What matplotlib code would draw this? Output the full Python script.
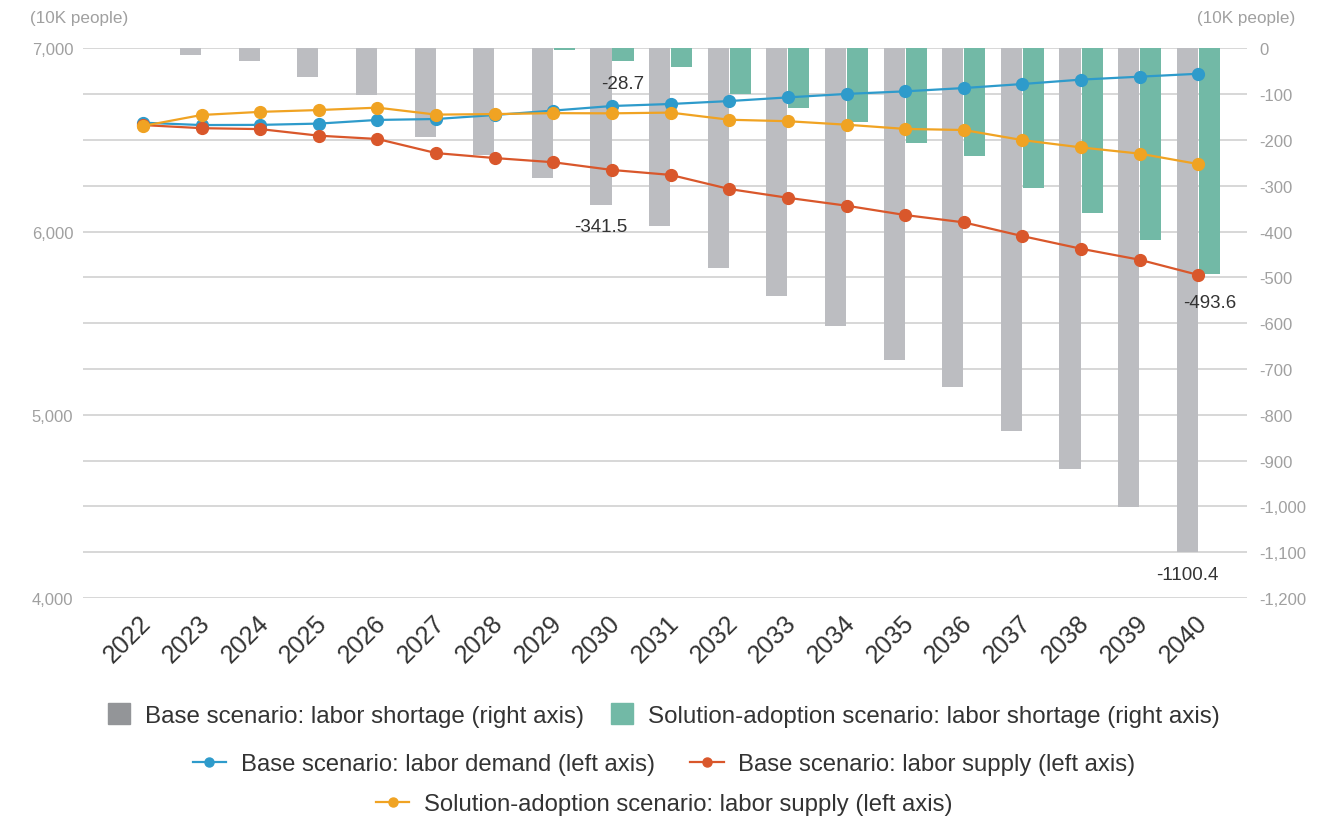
import matplotlib
matplotlib.use("Agg")
import matplotlib.pyplot as plt
from matplotlib.patches import Patch
from matplotlib.lines import Line2D
from matplotlib.ticker import FuncFormatter, FixedLocator
import matplotlib.transforms as mtransforms
import numpy as np

plt.rcParams['font.family'] = ['Liberation Sans', 'DejaVu Sans']

# ---- data (10K people) ----
years = [str(y) for y in range(2022, 2041)]

# labour shortage (right axis)
base_shortage = [0, -14, -27, -63, -103, -193, -234, -284, -341.5, -389,
                 -480, -540, -606, -680, -739, -835, -918, -1002, -1100.4]
solution_shortage = [0, 0, 0, 0, 0, 0, 0, -4, -28.7, -41.5,
                     -100, -130, -162, -206, -234.5, -304, -359, -418, -493.6]

# labour demand / supply (left axis)
base_demand = [6594, 6581, 6582, 6589, 6609, 6614, 6636, 6660, 6685, 6696,
               6712, 6732, 6751, 6765, 6783, 6805, 6829, 6845, 6861]
base_supply = [6581, 6564, 6559, 6523, 6505, 6428, 6401, 6378, 6336, 6309,
               6232, 6184, 6141, 6090, 6050, 5975, 5906, 5846, 5763]
solution_supply = [6576, 6636, 6653, 6663, 6676, 6638, 6641, 6646, 6645, 6649,
                   6610, 6602, 6583, 6560, 6554, 6499, 6459, 6425, 6368]

left_ticks = [4000, 5000, 6000, 7000]
right_ticks = list(range(-1200, 1, 100))

# labelled bars: (series, index)
bar_labels = [("base", 8), ("solution", 8), ("base", 18), ("solution", 18)]

# ---- styling ----
C_GRAY = "#BCBDC1"
C_GRAY_KEY = "#939598"
C_TEAL = "#72B9A6"
C_BLUE = "#2E9BCB"
C_RED = "#D9572B"
C_ORANGE = "#F0A323"
C_TICK = "#A0A0A0"
C_TEXT = "#333333"
C_GRID = "#D4D4D4"

fig = plt.figure(figsize=(13.42, 8.2), dpi=100)
ax = fig.add_axes([0.0618, 0.2695, 0.8674, 0.6704])   # bars, right scale
axl = ax.twinx()                                       # lines, left scale

x = np.arange(len(years))
bw = 0.36
gap = 0.016

ax.bar(x - bw / 2 - gap / 2, base_shortage, width=bw, color=C_GRAY,
       linewidth=0, zorder=2)
ax.bar(x + bw / 2 + gap / 2, solution_shortage, width=bw, color=C_TEAL,
       linewidth=0, zorder=2)

ax.set_ylim(-1200, 0)
ax.set_xlim(-1.023, 18.83)
ax.yaxis.set_major_locator(FixedLocator(right_ticks))
ax.yaxis.set_major_formatter(FuncFormatter(lambda v, p: f"{int(v):,}"))
ax.set_axisbelow(True)
ax.grid(axis="y", color=C_GRID, linewidth=1.3)
ax.yaxis.tick_right()
ax.tick_params(axis="y", length=0, pad=9, labelsize=12, labelcolor=C_TICK)

# data labels below the labelled bar ends
for series, i in bar_labels:
    if series == "base":
        v, xc = base_shortage[i], x[i] - bw / 2 - gap / 2
    else:
        v, xc = solution_shortage[i], x[i] + bw / 2 + gap / 2
    off = -20 if (series == "solution" and i == 18) else -16
    ax.annotate(f"{v}", xy=(xc, v), xytext=(0, off), textcoords="offset points",
                ha="center", va="center", fontsize=13.5, color=C_TEXT, zorder=6)

# lines on the left scale
line_kw = dict(marker="o", markersize=8.5, linewidth=1.6)
axl.plot(x, base_demand, color=C_BLUE, zorder=3, **line_kw)
axl.plot(x, base_supply, color=C_RED, zorder=4, **line_kw)
axl.plot(x, solution_supply, color=C_ORANGE, zorder=5, **line_kw)
axl.set_ylim(4000, 7000)
axl.yaxis.set_major_locator(FixedLocator(left_ticks))
axl.yaxis.set_major_formatter(FuncFormatter(lambda v, p: f"{int(v):,}"))
axl.yaxis.tick_left()
axl.tick_params(axis="y", length=0, pad=7, labelsize=12, labelcolor=C_TICK)

for a in (ax, axl):
    for s in a.spines.values():
        s.set_visible(False)

# year labels, rotated
ax.set_xticks(x)
ax.set_xticklabels(years)
ax.tick_params(axis="x", length=0, pad=0, labelsize=18, labelcolor=C_TEXT)
shift = mtransforms.ScaledTranslation(-15 / 100, -40 / 100, fig.dpi_scale_trans)
for lab in ax.get_xticklabels():
    lab.set_rotation(45)
    lab.set_rotation_mode("anchor")
    lab.set_ha("center")
    lab.set_va("center")
    lab.set_transform(lab.get_transform() + shift)

# unit captions
fig.text(30 / 1342, 1 - 18 / 820, "(10K people)", fontsize=12.3, color=C_TICK,
         ha="left", va="center")
fig.text(1295 / 1342, 1 - 18 / 820, "(10K people)", fontsize=12.3, color=C_TICK,
         ha="right", va="center")

# legend rows
cx = 664 / 1342
row1 = [Patch(color=C_GRAY_KEY), Patch(color=C_TEAL)]
fig.legend(row1, ["Base scenario: labor shortage (right axis)",
                  "Solution-adoption scenario: labor shortage (right axis)"],
           loc="center", bbox_to_anchor=(cx, 1 - 716 / 820), ncol=2,
           frameon=False, fontsize=17.35, handlelength=0.92, handleheight=0.92,
           handletextpad=0.62, columnspacing=1.1, borderpad=0,
           labelcolor=C_TEXT)

mk = dict(marker="o", markersize=6.5, linewidth=1.6)
row2 = [Line2D([], [], color=C_BLUE, **mk), Line2D([], [], color=C_RED, **mk)]
fig.legend(row2, ["Base scenario: labor demand (left axis)",
                  "Base scenario: labor supply (left axis)"],
           loc="center", bbox_to_anchor=(cx, 1 - 765 / 820), ncol=2,
           frameon=False, fontsize=17.2, handlelength=1.4, handletextpad=0.6,
           columnspacing=1.5, borderpad=0, labelcolor=C_TEXT)

row3 = [Line2D([], [], color=C_ORANGE, **mk)]
fig.legend(row3, ["Solution-adoption scenario: labor supply (left axis)"],
           loc="center", bbox_to_anchor=(cx, 1 - 805 / 820), ncol=1,
           frameon=False, fontsize=17.2, handlelength=1.4, handletextpad=0.6,
           borderpad=0, labelcolor=C_TEXT)

fig.savefig("out.png", dpi=100, facecolor="white")
